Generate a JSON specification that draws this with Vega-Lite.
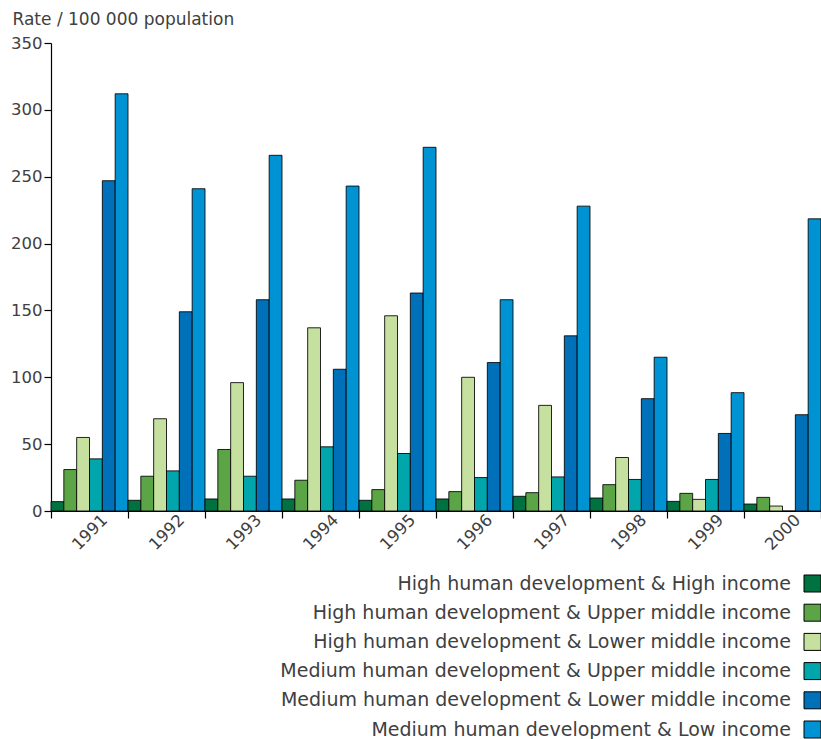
{
  "$schema": "https://vega.github.io/schema/vega-lite/v6.json",
  "width": 770,
  "height": 468,
  "autosize": {"type": "none"},
  "padding": {"left": 51, "top": 43, "right": 0, "bottom": 228},
  "background": "white",
  "config": {
    "view": {"stroke": null},
    "font": "DejaVu Sans",
    "axis": {"domainColor": "black", "tickColor": "black", "labelColor": "#404040", "labelFont": "DejaVu Sans", "labelFontSize": 16.5, "grid": false, "domainWidth": 1.2, "tickWidth": 1.2}
  },
  "data": {
    "values": [
      {"year": "1991", "group": "High human development & High income", "rate": 7},
      {"year": "1991", "group": "High human development & Upper middle income", "rate": 31},
      {"year": "1991", "group": "High human development & Lower middle income", "rate": 55},
      {"year": "1991", "group": "Medium human development & Upper middle income", "rate": 39},
      {"year": "1991", "group": "Medium human development & Lower middle income", "rate": 247},
      {"year": "1991", "group": "Medium human development & Low income", "rate": 312},
      {"year": "1992", "group": "High human development & High income", "rate": 8},
      {"year": "1992", "group": "High human development & Upper middle income", "rate": 26},
      {"year": "1992", "group": "High human development & Lower middle income", "rate": 69},
      {"year": "1992", "group": "Medium human development & Upper middle income", "rate": 30},
      {"year": "1992", "group": "Medium human development & Lower middle income", "rate": 149},
      {"year": "1992", "group": "Medium human development & Low income", "rate": 241},
      {"year": "1993", "group": "High human development & High income", "rate": 9},
      {"year": "1993", "group": "High human development & Upper middle income", "rate": 46},
      {"year": "1993", "group": "High human development & Lower middle income", "rate": 96},
      {"year": "1993", "group": "Medium human development & Upper middle income", "rate": 26},
      {"year": "1993", "group": "Medium human development & Lower middle income", "rate": 158},
      {"year": "1993", "group": "Medium human development & Low income", "rate": 266},
      {"year": "1994", "group": "High human development & High income", "rate": 9},
      {"year": "1994", "group": "High human development & Upper middle income", "rate": 23},
      {"year": "1994", "group": "High human development & Lower middle income", "rate": 137},
      {"year": "1994", "group": "Medium human development & Upper middle income", "rate": 48},
      {"year": "1994", "group": "Medium human development & Lower middle income", "rate": 106},
      {"year": "1994", "group": "Medium human development & Low income", "rate": 243},
      {"year": "1995", "group": "High human development & High income", "rate": 8},
      {"year": "1995", "group": "High human development & Upper middle income", "rate": 16},
      {"year": "1995", "group": "High human development & Lower middle income", "rate": 146},
      {"year": "1995", "group": "Medium human development & Upper middle income", "rate": 43},
      {"year": "1995", "group": "Medium human development & Lower middle income", "rate": 163},
      {"year": "1995", "group": "Medium human development & Low income", "rate": 272},
      {"year": "1996", "group": "High human development & High income", "rate": 9},
      {"year": "1996", "group": "High human development & Upper middle income", "rate": 14.5},
      {"year": "1996", "group": "High human development & Lower middle income", "rate": 100},
      {"year": "1996", "group": "Medium human development & Upper middle income", "rate": 25},
      {"year": "1996", "group": "Medium human development & Lower middle income", "rate": 111},
      {"year": "1996", "group": "Medium human development & Low income", "rate": 158},
      {"year": "1997", "group": "High human development & High income", "rate": 11},
      {"year": "1997", "group": "High human development & Upper middle income", "rate": 13.7},
      {"year": "1997", "group": "High human development & Lower middle income", "rate": 79},
      {"year": "1997", "group": "Medium human development & Upper middle income", "rate": 25.5},
      {"year": "1997", "group": "Medium human development & Lower middle income", "rate": 131},
      {"year": "1997", "group": "Medium human development & Low income", "rate": 228},
      {"year": "1998", "group": "High human development & High income", "rate": 9.7},
      {"year": "1998", "group": "High human development & Upper middle income", "rate": 19.7},
      {"year": "1998", "group": "High human development & Lower middle income", "rate": 40},
      {"year": "1998", "group": "Medium human development & Upper middle income", "rate": 23.6},
      {"year": "1998", "group": "Medium human development & Lower middle income", "rate": 84},
      {"year": "1998", "group": "Medium human development & Low income", "rate": 115},
      {"year": "1999", "group": "High human development & High income", "rate": 7.2},
      {"year": "1999", "group": "High human development & Upper middle income", "rate": 13.2},
      {"year": "1999", "group": "High human development & Lower middle income", "rate": 8.7},
      {"year": "1999", "group": "Medium human development & Upper middle income", "rate": 23.6},
      {"year": "1999", "group": "Medium human development & Lower middle income", "rate": 58},
      {"year": "1999", "group": "Medium human development & Low income", "rate": 88.5},
      {"year": "2000", "group": "High human development & High income", "rate": 5.2},
      {"year": "2000", "group": "High human development & Upper middle income", "rate": 10.2},
      {"year": "2000", "group": "High human development & Lower middle income", "rate": 3.7},
      {"year": "2000", "group": "Medium human development & Upper middle income", "rate": 0},
      {"year": "2000", "group": "Medium human development & Lower middle income", "rate": 72},
      {"year": "2000", "group": "Medium human development & Low income", "rate": 218.5}
    ]
  },
  "mark": {"type": "bar", "stroke": "black", "strokeWidth": 1, "strokeOpacity": 0.85},
  "encoding": {
    "x": {
      "field": "year", "type": "ordinal",
      "scale": {"paddingInner": 0, "paddingOuter": 0},
      "axis": {"title": null, "labelAngle": -45, "labelAlign": "center", "labelBaseline": "middle", "labelPadding": 14, "tickSize": 7, "tickBand": "extent"}
    },
    "xOffset": {
      "field": "group", "type": "nominal",
      "scale": {"paddingInner": 0, "paddingOuter": 0, "domain": [
        "High human development & High income",
        "High human development & Upper middle income",
        "High human development & Lower middle income",
        "Medium human development & Upper middle income",
        "Medium human development & Lower middle income",
        "Medium human development & Low income"
      ]}
    },
    "y": {
      "field": "rate", "type": "quantitative",
      "scale": {"domain": [0, 350], "nice": false},
      "axis": {"values": [0, 50, 100, 150, 200, 250, 300, 350], "tickSize": 7, "labelPadding": 2, "title": "Rate / 100 000 population", "titleAngle": 0, "titleAlign": "left", "titleBaseline": "middle", "titleX": -39, "titleY": -24, "titleFont": "DejaVu Sans", "titleFontSize": 17, "titleFontWeight": "normal", "titleColor": "#404040"}
    },
    "color": {
      "field": "group", "type": "nominal",
      "scale": {
        "domain": [
          "High human development & High income",
          "High human development & Upper middle income",
          "High human development & Lower middle income",
          "Medium human development & Upper middle income",
          "Medium human development & Lower middle income",
          "Medium human development & Low income"
        ],
        "range": ["#007140", "#5ba546", "#c5e09f", "#00a6ac", "#0071b9", "#0093d3"]
      },
      "legend": {
        "title": null, "orient": "none", "legendX": 752, "legendY": 531, "padding": 0,
        "symbolType": "square", "symbolSize": 289, "symbolStrokeColor": "black", "symbolStrokeWidth": 1, "symbolOpacity": 1,
        "labelFont": "DejaVu Sans", "labelFontSize": 19, "labelColor": "#404040", "labelLimit": 600, "rowPadding": 8.2,
        "encode": {"labels": {"update": {"x": {"value": -12}, "align": {"value": "right"}}}}
      }
    }
  }
}
